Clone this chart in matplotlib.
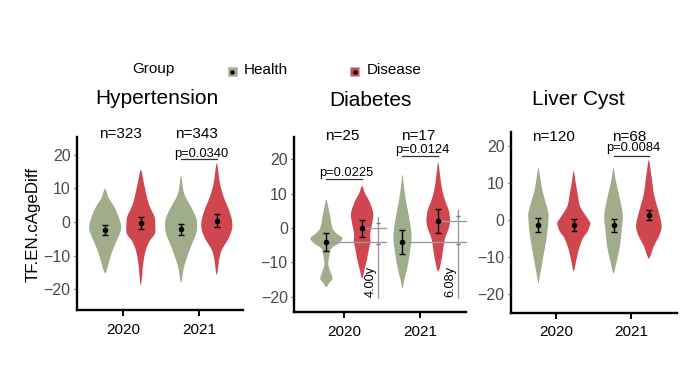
import numpy as np
import matplotlib
matplotlib.use("Agg")
import matplotlib.pyplot as plt
from matplotlib.path import Path
from matplotlib.patches import PathPatch, Rectangle
from matplotlib.lines import Line2D

plt.rcParams['font.family'] = ['Liberation Sans', 'DejaVu Sans']

# ---------------- data ----------------
panels = ["Hypertension", "Diabetes", "Liver Cyst"]
years = ["2020", "2021"]
groups = ["Health", "Disease"]
group_colors = ["#a0ad8a", "#d0464f"]

n_labels = [["n=323", "n=343"], ["n=25", "n=17"], ["n=120", "n=68"]]

# means [year][group] and error half-lengths
hyp_means = [[-2.4, -0.4], [-2.2, 0.4]]
hyp_err = [[1.4, 1.8], [1.7, 2.0]]
dia_means = [[-4.1, -0.1], [-4.1, 2.0]]
dia_err = [[2.5, 2.4], [3.6, 3.5]]
liv_means = [[-1.35, -1.35], [-1.35, 1.35]]
liv_err = [[1.8, 1.6], [1.75, 1.35]]

# violin profiles: y knots and half-widths (category units)
hyp_h20_y = [9.8, 7, 4.5, 2, -1, -3, -6, -9, -12, -15.2]
hyp_h20_w = [0, .05, .12, .17, .21, .20, .145, .09, .05, 0]
hyp_d20_y = [15.4, 11.6, 6.5, 4, 1.5, -1, -3.5, -5.5, -8.3, -12.2, -18.7]
hyp_d20_w = [0, .04, .09, .13, .18, .19, .185, .12, .066, .033, 0]
hyp_h21_y = [13.6, 8.5, 4.5, 2, 0, -3.3, -7.3, -11.3, -14, -18]
hyp_h21_w = [0, .04, .13, .185, .21, .20, .13, .066, .033, 0]
hyp_d21_y = [17.4, 11.6, 7.5, 4.5, 1.5, -1, -3, -5.3, -8.3, -11, -15.7]
hyp_d21_w = [0, .04, .09, .145, .19, .205, .19, .145, .066, .033, 0]

dia_h20_y = [8.2, 6, 3, 0, -1.5, -3, -4.5, -6, -8, -10.3, -12, -14.7, -16, -17.3]
dia_h20_w = [0, .026, .053, .08, .13, .21, .16, .066, .04, .026, .04, .08, .04, 0]
dia_d20_y = [12.2, 10, 8, 5, 3, 0, -2, -4, -6, -9, -12, -14.7]
dia_d20_w = [0, .04, .09, .14, .145, .12, .105, .11, .09, .066, .033, 0]
dia_h21_y = [15.5, 12, 8, 4, 0, -3, -6, -9, -12, -15, -17.6]
dia_h21_w = [0, .02, .046, .08, .11, .12, .105, .085, .06, .026, 0]
dia_d21_y = [19, 15, 11, 8, 5, 2.3, 0, -3, -6, -9, -12.7]
dia_d21_w = [0, .026, .053, .09, .14, .155, .14, .09, .066, .046, 0]

liv_h20_y = [14, 11, 8, 5, 2, 0, -3, -6, -9, -12, -15, -17.1]
liv_h20_w = [0, .027, .053, .093, .133, .133, .12, .10, .073, .047, .02, 0]
liv_d20_y = [13.2, 10, 7, 4, 2, 0, -1, -3, -5, -8, -11, -13.8]
liv_d20_w = [0, .027, .053, .08, .133, .20, .22, .187, .12, .067, .033, 0]
liv_h21_y = [14, 11, 8, 5, 2, 0, -3, -6, -9, -12, -14.4]
liv_h21_w = [0, .027, .06, .093, .12, .123, .107, .093, .067, .033, 0]
liv_d21_y = [16.2, 13, 10, 7, 4, 1, -1.35, -3, -5, -7, -9, -10.4]
liv_d21_w = [0, .027, .047, .067, .107, .147, .17, .16, .12, .067, .033, 0]

# p-value annotations: (year index, label, text y, line y)
hyp_p = [(1, "p=0.0340", 20.2, 18.6)]
dia_p = [(0, "p=0.0225", 16.0, 14.3), (1, "p=0.0124", 22.7, 21.0)]
liv_p = [(1, "p=0.0084", 19.4, 17.3)]

dia_gap_labels = ["4.00y", "6.08y"]

yticks = [-20, -10, 0, 10, 20]

# ---------------- layout ----------------
W, H = 689, 388
fig = plt.figure(figsize=(W / 100, H / 100), dpi=100)

def fx(px):
    return px / W

def fy(py):
    return 1 - py / H

panel_boxes = [(77, 243, 137, 310), (294, 466, 137, 312), (511, 677, 132, 313)]
panel_xlims = [(-0.605, 1.58), (-0.66, 1.6), (-0.6, 1.61)]
panel_ylims = [(-26.1, 25.2), (-24.5, 26.5), (-25.1, 23.8)]
n_y = [26.1, 26.8, 22.5]
title_px = [(156.5, 98), (370.3, 100.5), (578.8, 99.5)]

profiles = [
    [[(hyp_h20_y, hyp_h20_w), (hyp_d20_y, hyp_d20_w)], [(hyp_h21_y, hyp_h21_w), (hyp_d21_y, hyp_d21_w)]],
    [[(dia_h20_y, dia_h20_w), (dia_d20_y, dia_d20_w)], [(dia_h21_y, dia_h21_w), (dia_d21_y, dia_d21_w)]],
    [[(liv_h20_y, liv_h20_w), (liv_d20_y, liv_d20_w)], [(liv_h21_y, liv_h21_w), (liv_d21_y, liv_d21_w)]],
]
means = [hyp_means, dia_means, liv_means]
errs = [hyp_err, dia_err, liv_err]
pvals = [hyp_p, dia_p, liv_p]

DODGE = 0.235


def smooth_closed_path(pts):
    """Closed Catmull-Rom curve through pts, drawn as cubic Bezier segments."""
    pts = np.asarray(pts, float)
    n = len(pts)
    verts = [pts[0]]
    codes = [Path.MOVETO]
    for i in range(n):
        p0, p1, p2, p3 = pts[i - 1], pts[i], pts[(i + 1) % n], pts[(i + 2) % n]
        c1 = p1 + (p2 - p0) / 6.0
        c2 = p2 - (p3 - p1) / 6.0
        verts += [c1, c2, p2]
        codes += [Path.CURVE4] * 3
    return Path(verts, codes)


def draw_violin(ax, xc, ys, ws, color):
    ys = list(ys)
    ws = list(ws)
    right = [(xc + w, y) for y, w in zip(ys, ws)]
    left = [(xc - w, y) for y, w in zip(ys[1:-1], ws[1:-1])][::-1]
    path = smooth_closed_path(right + left)
    ax.add_patch(PathPatch(path, facecolor=color, edgecolor='none', zorder=2))


for pi, name in enumerate(panels):
    l, r, t, b = panel_boxes[pi]
    ax = fig.add_axes([fx(l), fy(b), fx(r) - fx(l), (b - t) / H])
    ax.set_xlim(*panel_xlims[pi])
    ax.set_ylim(*panel_ylims[pi])
    for s in ['top', 'right']:
        ax.spines[s].set_visible(False)
    for s in ['left', 'bottom']:
        ax.spines[s].set_linewidth(1.7)
        ax.spines[s].set_color('black')
    ax.set_xticks(range(len(years)))
    ax.set_xticklabels(years, fontsize=11, color='black')
    ax.set_yticks(yticks)
    ax.set_yticklabels([f"{v}".replace("-", "\u2212") for v in yticks], fontsize=11.5, color='#4a4a4a')
    ax.tick_params(axis='x', length=4, width=1.4, color='black', pad=5)
    ax.tick_params(axis='y', length=2.5, width=0.8, color='#555555', pad=2)
    ax.set_facecolor('none')

    for yi, yr in enumerate(years):
        for gi, g in enumerate(groups):
            xc = yi + (gi - 0.5) * 2 * DODGE
            ys, ws = profiles[pi][yi][gi]
            draw_violin(ax, xc, ys, ws, group_colors[gi])
            ax.errorbar([xc], [means[pi][yi][gi]], yerr=[errs[pi][yi][gi]], fmt='o',
                        color='black', ms=3.0, elinewidth=1.0, capsize=2.0,
                        capthick=1.0, zorder=4)
        ax.text(yi - 0.03, n_y[pi], n_labels[pi][yi], ha='center', va='center',
                fontsize=11, color='black', clip_on=False)

    for (yi, lab, ty, ly) in pvals[pi]:
        ax.text(yi + 0.03, ty, lab, ha='center', va='center', fontsize=9.3,
                color='black', clip_on=False)
        ax.plot([yi - DODGE, yi + DODGE], [ly, ly], color='#333333', lw=0.9,
                clip_on=False, zorder=3)

    if name == "Diabetes":
        vx_off = [0.44, 0.49]
        for yi in range(len(years)):
            hm, dm = means[pi][yi]
            vx = yi + vx_off[yi]
            ax.plot([yi - DODGE, vx + 0.11], [hm, hm], color='#9a9a9a', lw=1.0, zorder=3,
                    clip_on=False)
            ax.plot([yi + DODGE, vx + 0.11], [dm, dm], color='#9a9a9a', lw=1.0, zorder=3,
                    clip_on=False)
            ax.plot([vx, vx], [max(hm, dm) + 3.2, -20.5], color='#9a9a9a', lw=1.0, zorder=3)
            ax.plot([vx, vx], [dm + 1.5, hm - 0.7], ls='none', marker='_', ms=3,
                    color='#777777', zorder=3)
            ax.text(vx - 0.09, -15.5, dia_gap_labels[yi], rotation=90, ha='center',
                    va='center', fontsize=9.2, color='black')

    tx, ty = title_px[pi]
    fig.text(fx(tx), fy(ty), name, ha='center', va='center', fontsize=15, color='black')

# y label
fig.text(fx(33), fy(224), "TF.EN.cAgeDiff", rotation=90, ha='center', va='center',
         fontsize=12.2, color='black')

# legend
fig.text(fx(153.5), fy(69.5), "Group", ha='center', va='center', fontsize=11)
leg_marker_x = [232.5, 354.5]
leg_text_x = [243.3, 366.7]
for gi, g in enumerate(groups):
    cx = leg_marker_x[gi]
    fig.add_artist(Rectangle((fx(cx - 4.5), fy(71.5 + 4.5)), 9 / W, 9 / H,
                             facecolor=group_colors[gi], edgecolor='#bbbbbb', lw=0.5,
                             transform=fig.transFigure))
    fig.add_artist(Line2D([fx(cx)], [fy(71.5)], marker='o', ms=2.2, color='black',
                          transform=fig.transFigure))
    fig.text(fx(leg_text_x[gi]), fy(69.5), g, ha='left', va='center', fontsize=11)

fig.savefig("out.png", dpi=100)
